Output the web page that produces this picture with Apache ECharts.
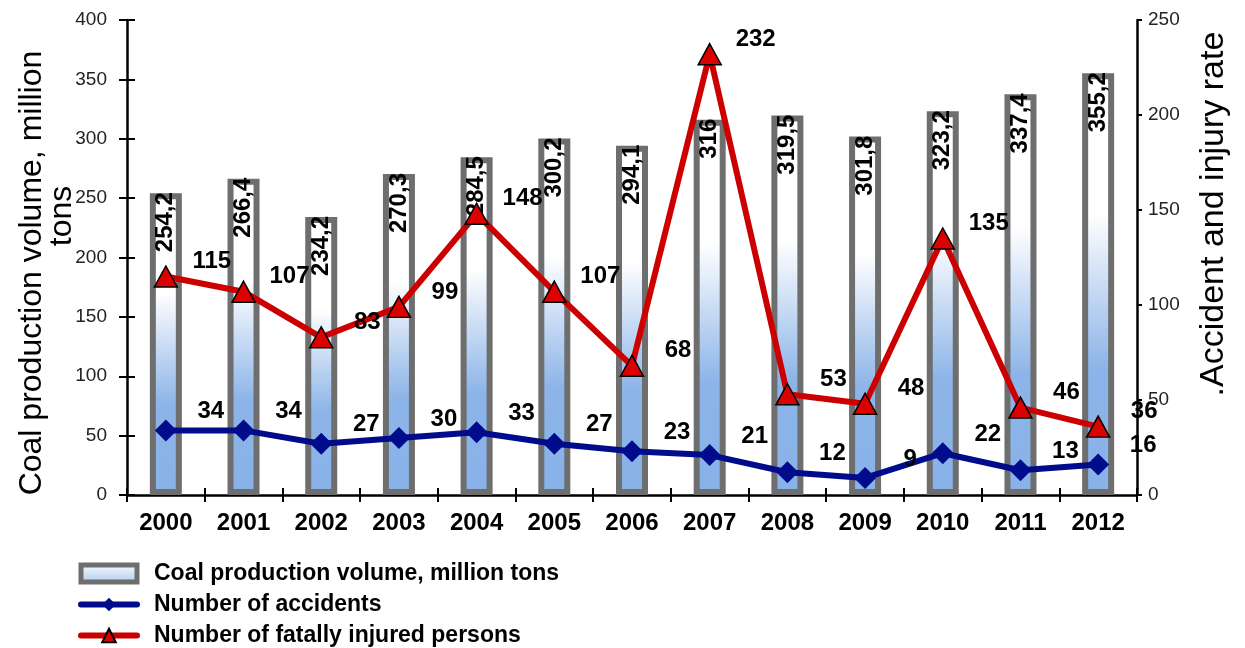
<!DOCTYPE html>
<html>
<head>
<meta charset="utf-8">
<script src="https://cdn.jsdelivr.net/npm/echarts@6/dist/echarts.min.js"></script>
<style>
  html, body { margin: 0; padding: 0; background: #ffffff; }
  #chart { width: 1245px; height: 648px; }
</style>
</head>
<body>
<div id="chart"></div>
<script>
const years = ['2000','2001','2002','2003','2004','2005','2006','2007','2008','2009','2010','2011','2012'];
const coalProduction = [254.2, 266.4, 234.2, 270.3, 284.5, 300.2, 294.1, 316, 319.5, 301.8, 323.2, 337.4, 355.2];
const accidents = [34, 34, 27, 30, 33, 27, 23, 21, 12, 9, 22, 13, 16];
const fatalities = [115, 107, 83, 99, 148, 107, 68, 232, 53, 48, 135, 46, 36];
const leftTicks = { min: 0, max: 400, interval: 50 };
const rightTicks = { min: 0, max: 250, interval: 50 };

const FONT = 'Liberation Sans, Arial, sans-serif';
const chart = echarts.init(document.getElementById('chart'));

const barFill = new echarts.graphic.LinearGradient(0, 0, 0, 1, [
  { offset: 0, color: '#ffffff' },
  { offset: 0.33, color: '#ffffff' },
  { offset: 0.7, color: '#8cb4e8' },
  { offset: 1, color: '#88b2e8' }
]);

const option = {
  backgroundColor: '#ffffff',
  animation: false,
  grid: { left: 127, right: 108, top: 20, bottom: 153, containLabel: false },
  legend: {
    orient: 'vertical',
    left: 73,
    top: 557,
    height: 90,
    itemWidth: 56,
    itemHeight: 17,
    itemGap: 8,
    selectedMode: false,
    textStyle: { fontFamily: FONT, fontSize: 23, fontWeight: 'bold', color: '#000', padding: [0, 0, 0, 12] },
    data: [
      { name: 'Coal production volume, million tons', icon: 'rect',
        itemStyle: { color: new echarts.graphic.LinearGradient(0, 0, 0, 1, [
          { offset: 0, color: '#ffffff' }, { offset: 1, color: '#a9c7ee' }]),
          borderColor: '#6e6e6e', borderWidth: 5 } },
      { name: 'Number of accidents',
        lineStyle: { color: '#000c8c', width: 6, cap: 'round' } },
      { name: 'Number of fatally injured persons',
        lineStyle: { color: '#cc0000', width: 6, cap: 'round' } }
    ]
  },
  graphic: [
    { type: 'text', x: 32, y: 273, rotation: Math.PI / 2,
      style: { text: 'Coal production volume, million', font: '32px ' + FONT, fill: '#000', textAlign: 'center', textVerticalAlign: 'middle' } },
    { type: 'text', x: 62, y: 216, rotation: Math.PI / 2,
      style: { text: 'tons', font: '32px ' + FONT, fill: '#000', textAlign: 'center', textVerticalAlign: 'middle' } },
    { type: 'text', x: 1214, y: 214, rotation: Math.PI / 2,
      style: { text: '.Accident and injury rate', font: '34px ' + FONT, fill: '#000', textAlign: 'center', textVerticalAlign: 'middle' } }
  ],
  xAxis: [
    {
      type: 'category', data: years, position: 'bottom',
      axisLine: { show: true, lineStyle: { color: '#000', width: 2.5 } },
      axisTick: { show: true, inside: false, length: 7, lineStyle: { color: '#000', width: 2 } },
      axisLabel: { fontFamily: FONT, fontSize: 24, fontWeight: 'bold', color: '#000', margin: 16 },
      splitLine: { show: false }
    },
    {
      type: 'category', data: years, position: 'bottom',
      axisLine: { show: false },
      axisTick: { show: true, inside: true, length: 7, lineStyle: { color: '#000', width: 2 } },
      axisLabel: { show: false },
      splitLine: { show: false }
    }
  ],
  yAxis: [
    {
      type: 'value', position: 'left', min: leftTicks.min, max: leftTicks.max, interval: leftTicks.interval,
      axisLine: { show: true, lineStyle: { color: '#000', width: 2.5 } },
      axisTick: { show: true, inside: false, length: 8, lineStyle: { color: '#000', width: 2 } },
      axisLabel: { fontFamily: FONT, fontSize: 19, color: '#222', margin: 20 },
      splitLine: { show: false }
    },
    {
      type: 'value', position: 'right', min: rightTicks.min, max: rightTicks.max, interval: rightTicks.interval,
      axisLine: { show: true, lineStyle: { color: '#000', width: 2.5 } },
      axisTick: { show: true, inside: false, length: 5, lineStyle: { color: '#000', width: 2 } },
      axisLabel: { fontFamily: FONT, fontSize: 19, color: '#222', margin: 11 },
      splitLine: { show: false }
    },
    {
      type: 'value', position: 'left', min: leftTicks.min, max: leftTicks.max, interval: leftTicks.interval,
      axisLine: { show: false },
      axisTick: { show: true, inside: true, length: 8, lineStyle: { color: '#000', width: 2 } },
      axisLabel: { show: false },
      splitLine: { show: false }
    }
  ],
  series: [
    {
      name: 'Coal production volume, million tons',
      type: 'bar', xAxisIndex: 0, yAxisIndex: 0,
      data: coalProduction,
      barWidth: 32,
      itemStyle: { color: barFill, borderColor: '#6e6e6e', borderWidth: 6 },
      label: {
        show: true, position: 'insideTop', rotate: 90, align: 'right', verticalAlign: 'middle', distance: -1,
        fontFamily: FONT, fontSize: 24, fontWeight: 'bold', color: '#000',
        formatter: p => String(p.value).replace('.', ',')
      },
      z: 1
    },
    {
      name: 'Number of accidents',
      type: 'line', xAxisIndex: 0, yAxisIndex: 1,
      data: accidents,
      symbol: 'diamond', symbolSize: 22,
      lineStyle: { color: '#000c8c', width: 6 },
      itemStyle: { color: '#000c8c', borderColor: '#000c8c', borderWidth: 0 },
      label: { show: true, position: 'inside', offset: [45, -19], fontFamily: FONT, fontSize: 24, fontWeight: 'bold', color: '#000' },
      z: 3
    },
    {
      name: 'Number of fatally injured persons',
      type: 'line', xAxisIndex: 0, yAxisIndex: 1,
      data: fatalities,
      symbol: 'triangle', symbolSize: [23, 21],
      lineStyle: { color: '#cc0000', width: 6 },
      itemStyle: { color: '#dd0000', borderColor: '#000', borderWidth: 1.5 },
      label: { show: true, position: 'inside', offset: [46, -15], fontFamily: FONT, fontSize: 24, fontWeight: 'bold', color: '#000' },
      z: 4
    }
  ]
};
chart.setOption(option);
</script>
</body>
</html>
